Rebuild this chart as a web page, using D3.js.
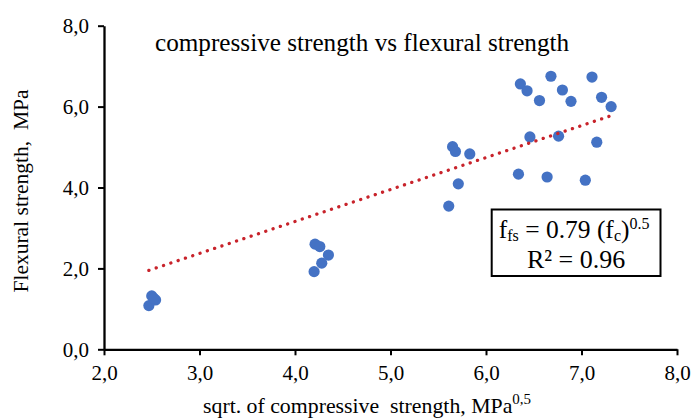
<!DOCTYPE html>
<html>
<head>
<meta charset="utf-8">
<script src="https://cdn.jsdelivr.net/npm/d3@7"></script>
<style>
  html, body { margin: 0; padding: 0; background: #fff; }
  svg { display: block; }
  svg text { font-family: "Liberation Serif", "Times New Roman", serif !important; fill: #000; }
</style>
</head>
<body>
<svg id="chart" width="692" height="418"></svg>
<script>
// Square root of compressive strength (MPa^0.5) for each specimen
const sqrtCompressive = [
  2.47, 2.50, 2.54, 2.52,
  4.21, 4.26, 4.35, 4.28, 4.20,
  5.65, 5.68, 5.83, 5.71, 5.61,
  6.36, 6.43, 6.68, 6.56, 6.80, 6.89, 7.11, 7.21, 7.31,
  6.46, 6.76, 7.16, 6.34, 6.64, 7.04
];
// Measured flexural strength (MPa), same order
const flexural = [
  1.08, 1.32, 1.22, 1.26,
  2.60, 2.54, 2.33, 2.13, 1.92,
  5.01, 4.89, 4.83, 4.09, 3.54,
  6.56, 6.39, 6.75, 6.15, 6.41, 6.13, 6.73, 6.23, 6.00,
  5.25, 5.27, 5.12, 4.33, 4.26, 4.18
];
const xTicks = [2, 3, 4, 5, 6, 7, 8];
const yTicks = [0, 2, 4, 6, 8];
// Fitted relation f_fs = k * sqrt(f_c)
const slope = 0.79;
const rSquared = 0.96;

const serif = '"Liberation Serif", "Times New Roman", serif';
const svg = d3.select("#chart");
const x = d3.scaleLinear().domain([2, 8]).range([104, 677]);
const y = d3.scaleLinear().domain([0, 8]).range([349.3, 25.7]);

// Decimal comma formatting
const locale = d3.formatLocale({ decimal: ",", thousands: ".", grouping: [3], currency: ["", ""] });
const fmt = locale.format(".1f");

// Axes
const gx = svg.append("g")
  .attr("transform", `translate(0,${y(0)})`)
  .call(d3.axisBottom(x).tickValues(xTicks).tickFormat(fmt).tickSizeInner(6).tickSizeOuter(0).tickPadding(10));
const gy = svg.append("g")
  .attr("transform", `translate(${x(2)},0)`)
  .call(d3.axisLeft(y).tickValues(yTicks).tickFormat(fmt).tickSizeInner(6).tickSizeOuter(0).tickPadding(9));

[gx, gy].forEach(g => {
  g.attr("font-family", serif).attr("font-size", 21);
  g.select(".domain").attr("stroke", "#000").attr("stroke-width", 2.3);
  g.selectAll(".tick line").attr("stroke", "#000").attr("stroke-width", 2);
  g.selectAll(".tick text")
    .style("font-family", serif)
    .style("font-size", "21px")
    .attr("fill", "#000");
});
gx.selectAll(".tick text").attr("dy", "0.71em");

// Specimen points
svg.append("g").selectAll("circle")
  .data(sqrtCompressive.map((v, i) => [v, flexural[i]]))
  .join("circle")
  .attr("cx", d => x(d[0]))
  .attr("cy", d => y(d[1]))
  .attr("r", 5.6)
  .attr("fill", "#4472C4");

// Dotted trend line through origin
const [xMin, xMax] = d3.extent(sqrtCompressive);
svg.append("path")
  .datum([xMin, xMax])
  .attr("d", d3.line().x(d => x(d)).y(d => y(slope * d)))
  .attr("fill", "none")
  .attr("stroke", "#C8232B")
  .attr("stroke-width", 3.3)
  .attr("stroke-linecap", "round")
  .attr("stroke-dasharray", "0.1 7.6");

// Title
svg.append("text")
  .attr("x", 155).attr("y", 51)
  .style("font-size", "25.2px")
  .text("compressive strength vs flexural strength");

// Axis titles
const xt = svg.append("text")
  .attr("x", 203).attr("y", 413)
  .style("font-size", "21.8px");
xt.append("tspan").text("sqrt. of compressive\u00A0 strength, MPa");
xt.append("tspan").attr("dy", -9).style("font-size", "15px").text("0,5");

svg.append("text")
  .attr("transform", "translate(28,191) rotate(-90)")
  .attr("text-anchor", "middle")
  .style("font-size", "21.5px")
  .text("Flexural strength,\u00A0 MPa");

// Equation box: fitted relation and coefficient of determination
const bx = 491.7, by = 209.5, bw = 168.8, bh = 66.5;
const cx = bx + bw / 2;
svg.append("rect")
  .attr("x", bx).attr("y", by).attr("width", bw).attr("height", bh)
  .attr("fill", "#fff").attr("stroke", "#000").attr("stroke-width", 2);

const eq = svg.append("text")
  .attr("text-anchor", "middle")
  .style("font-size", "25.5px");
eq.append("tspan").attr("x", cx - 2).attr("y", 238).text("f");
eq.append("tspan").style("font-size", "16px").attr("dy", 3).text("fs");
eq.append("tspan").attr("dy", -3).text(` = ${slope.toFixed(2)} (f`);
eq.append("tspan").style("font-size", "16px").attr("dy", 3).text("c");
eq.append("tspan").attr("dy", -3).text(")");
eq.append("tspan").style("font-size", "16px").attr("dy", -9).text("0.5");
eq.append("tspan").attr("x", cx).attr("y", 268)
  .style("font-size", "26px")
  .text(`R\u00B2 = ${rSquared.toFixed(2)}`);
</script>
</body>
</html>
